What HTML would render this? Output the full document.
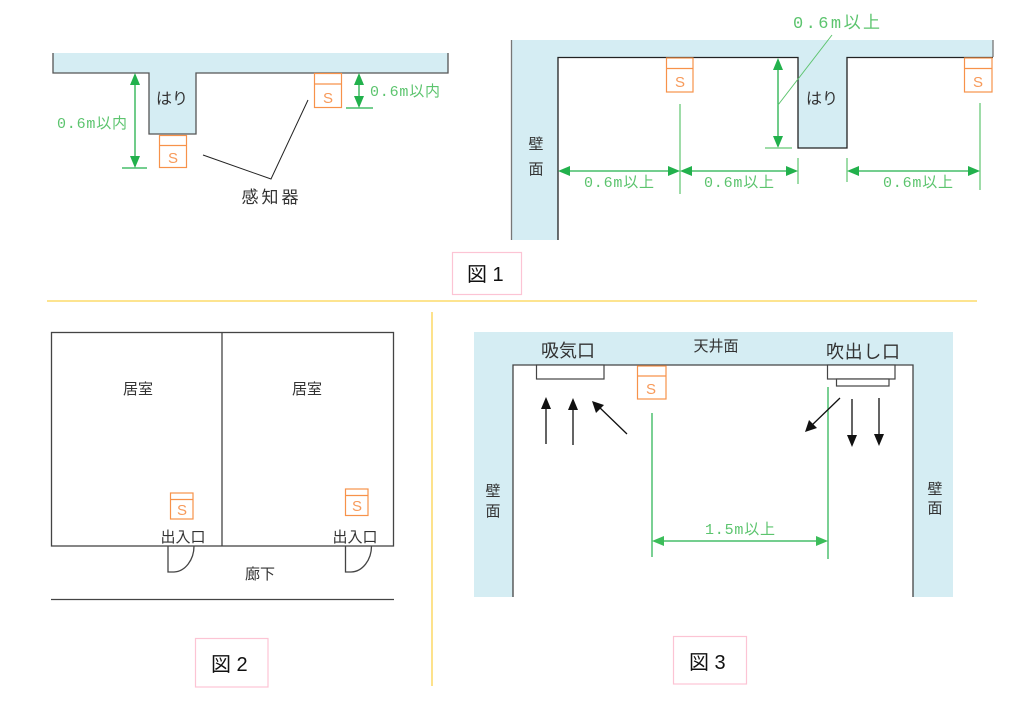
<!DOCTYPE html>
<html><head><meta charset="utf-8"><style>
html,body{margin:0;padding:0;background:#fff;}
svg{display:block;}
text{font-family:"Liberation Sans","Noto Sans CJK JP",sans-serif;}
.g{fill:#5cc46e;font-size:15px;font-family:"Liberation Mono","Noto Sans CJK JP",monospace;}
.k{fill:#333;}
.s{fill:#f79a5a;font-size:15px;}
</style></head><body>
<svg width="1024" height="705" viewBox="0 0 1024 705" xmlns="http://www.w3.org/2000/svg">
<!-- ===== Figure 1 left ===== -->
<path d="M53,53 H448 V73 H196 V134 H149 V73 H53 Z" fill="#d5edf3"/>
<path d="M53,53 V73 H149 V134 H196 V73 H448 V53" fill="none" stroke="#555" stroke-width="1.3"/>
<text x="172" y="104" class="k" font-size="16" text-anchor="middle">はり</text>
<g fill="none" stroke="#f7924a" stroke-width="1.2">
<rect x="159.5" y="135.5" width="27" height="32"/><line x1="159.5" y1="145.5" x2="186.5" y2="145.5"/>
<rect x="314.5" y="73.5" width="27" height="34"/><line x1="314.5" y1="84" x2="341.5" y2="84"/>
</g>
<text x="173" y="163" class="s" text-anchor="middle">S</text>
<text x="328" y="103" class="s" text-anchor="middle">S</text>
<g stroke="#22b14c" stroke-width="1.3">
<line x1="135" y1="76" x2="135" y2="166"/>
<line x1="359" y1="76" x2="359" y2="106"/>
</g>
<g fill="#22b14c">
<polygon points="135,73 130,85 140,85"/><polygon points="135,168 130,156 140,156"/>
<polygon points="359,73 354,85 364,85"/><polygon points="359,108 354,96 364,96"/>
</g>
<line x1="122" y1="168" x2="147" y2="168" stroke="#22b14c" stroke-width="1.2"/>
<line x1="346" y1="108" x2="373" y2="108" stroke="#22b14c" stroke-width="1.2"/>
<text x="57" y="128" class="g" textLength="70" lengthAdjust="spacing">0.6m以内</text>
<text x="370" y="96" class="g" textLength="70" lengthAdjust="spacing">0.6m以内</text>
<polyline points="203,155 271,179 308,100" fill="none" stroke="#222" stroke-width="1"/>
<text x="270" y="203" class="k" font-size="17" text-anchor="middle" textLength="57" lengthAdjust="spacing">感知器</text>

<!-- ===== Figure 1 right ===== -->
<path d="M511,40 H993 V57 H847 V148 H798 V57 H558 V240 H511 Z" fill="#d5edf3"/>
<line x1="511.5" y1="40" x2="511.5" y2="240" stroke="#777" stroke-width="1.3"/>
<line x1="993" y1="40" x2="993" y2="57" stroke="#777" stroke-width="1.3"/>
<path d="M558,240 V57.5 H798 V148 H847 V57.5 H993" fill="none" stroke="#222" stroke-width="1.3"/>
<text x="822" y="104" class="k" font-size="16" text-anchor="middle">はり</text>
<text x="536" y="149" class="k" font-size="15" text-anchor="middle">壁</text>
<text x="536" y="174" class="k" font-size="15" text-anchor="middle">面</text>
<g fill="none" stroke="#f7924a" stroke-width="1.2">
<rect x="666.5" y="58" width="26.5" height="34"/><line x1="666.5" y1="68.5" x2="693" y2="68.5"/>
<rect x="964.5" y="58" width="27.5" height="34"/><line x1="964.5" y1="68.5" x2="992" y2="68.5"/>
</g>
<text x="680" y="87" class="s" text-anchor="middle">S</text>
<text x="978" y="87" class="s" text-anchor="middle">S</text>
<g stroke="#5cc46e" stroke-width="1.2">
<line x1="680" y1="104" x2="680" y2="194"/>
<line x1="980" y1="103" x2="980" y2="190"/>
<line x1="798" y1="158" x2="798" y2="184"/>
<line x1="847" y1="158" x2="847" y2="182"/>
</g>
<g stroke="#22b14c" stroke-width="1.3">
<line x1="561" y1="171" x2="677" y2="171"/>
<line x1="683" y1="171" x2="795" y2="171"/>
<line x1="850" y1="171" x2="977" y2="171"/>
<line x1="778" y1="61" x2="778" y2="145"/>
</g>
<g fill="#22b14c">
<polygon points="558,171 570,166 570,176"/><polygon points="680,171 668,166 668,176"/>
<polygon points="680,171 692,166 692,176"/><polygon points="798,171 786,166 786,176"/>
<polygon points="847,171 859,166 859,176"/><polygon points="980,171 968,166 968,176"/>
<polygon points="778,58 773,70 783,70"/><polygon points="778,148 773,136 783,136"/>
</g>
<line x1="765" y1="148" x2="792" y2="148" stroke="#7fd08c" stroke-width="1.4"/>
<line x1="778" y1="105" x2="832" y2="35" stroke="#5cc46e" stroke-width="1"/>
<text x="619" y="187" class="g" text-anchor="middle" textLength="70" lengthAdjust="spacing">0.6m以上</text>
<text x="739" y="187" class="g" text-anchor="middle" textLength="70" lengthAdjust="spacing">0.6m以上</text>
<text x="918" y="187" class="g" text-anchor="middle" textLength="70" lengthAdjust="spacing">0.6m以上</text>
<text x="793" y="28" class="g" textLength="87" lengthAdjust="spacing" style="font-size:17px">0.6m以上</text>

<!-- caption 1 -->
<rect x="452.5" y="252.5" width="69" height="42" fill="#fff" stroke="#fcc4d4" stroke-width="1.2"/>
<text x="467" y="281" font-size="20" fill="#111">図 1</text>
<line x1="47" y1="301" x2="977" y2="301" stroke="#fcd34d" stroke-width="1.3"/>
<line x1="432" y1="312" x2="432" y2="686" stroke="#fcd34d" stroke-width="1.3"/>

<!-- ===== Figure 2 ===== -->
<g fill="none" stroke="#444" stroke-width="1.3">
<rect x="51.5" y="332.5" width="342" height="213.5"/>
<line x1="222" y1="332.5" x2="222" y2="546"/>
<line x1="51" y1="599.5" x2="394" y2="599.5"/>
<path d="M168,546 V572 H174 A21 26 0 0 0 194 546"/>
<path d="M345.5,546 V572 H351 A21 26 0 0 0 371.5 546"/>
</g>
<g fill="none" stroke="#f7924a" stroke-width="1.2">
<rect x="170.5" y="493" width="22.5" height="26"/><line x1="170.5" y1="499.5" x2="193" y2="499.5"/>
<rect x="345.5" y="489" width="22.5" height="26.5"/><line x1="345.5" y1="495.5" x2="368" y2="495.5"/>
</g>
<text x="182" y="515" class="s" font-size="14" text-anchor="middle">S</text>
<text x="357" y="511" class="s" font-size="14" text-anchor="middle">S</text>
<text x="138" y="394" class="k" font-size="15" text-anchor="middle">居室</text>
<text x="307" y="394" class="k" font-size="15" text-anchor="middle">居室</text>
<text x="183" y="542" class="k" font-size="15" text-anchor="middle">出入口</text>
<text x="355" y="542" class="k" font-size="15" text-anchor="middle">出入口</text>
<text x="260" y="579" class="k" font-size="15" text-anchor="middle">廊下</text>
<rect x="195.5" y="638.5" width="72.5" height="48.5" fill="#fff" stroke="#fcc4d4" stroke-width="1.2"/>
<text x="211" y="671" font-size="20" fill="#111">図 2</text>

<!-- ===== Figure 3 ===== -->
<path d="M474,332 H953 V597 H913 V365 H513 V597 H474 Z" fill="#d5edf3"/>
<path d="M513,597 V365 H913 V597" fill="none" stroke="#444" stroke-width="1.3"/>
<text x="568" y="357" class="k" font-size="18" text-anchor="middle">吸気口</text>
<text x="716" y="351" class="k" font-size="15" text-anchor="middle">天井面</text>
<text x="863" y="358" class="k" font-size="18" text-anchor="middle" textLength="74" lengthAdjust="spacing">吹出し口</text>
<text x="493" y="496" class="k" font-size="15" text-anchor="middle">壁</text>
<text x="493" y="516" class="k" font-size="15" text-anchor="middle">面</text>
<text x="935" y="494" class="k" font-size="15" text-anchor="middle">壁</text>
<text x="935" y="513" class="k" font-size="15" text-anchor="middle">面</text>
<g fill="#fff" stroke="#444" stroke-width="1.2">
<rect x="536.5" y="365" width="67.5" height="14"/>
<rect x="827.5" y="365" width="67.5" height="14"/>
<rect x="836.5" y="379" width="52.5" height="7"/>
</g>
<g fill="none" stroke="#f7924a" stroke-width="1.2">
<rect x="637.5" y="366" width="28.5" height="33"/><line x1="637.5" y1="376" x2="666" y2="376"/>
</g>
<text x="651" y="394" class="s" text-anchor="middle">S</text>
<g stroke="#22b14c" stroke-width="1.2">
<line x1="652" y1="413" x2="652" y2="557"/>
<line x1="828" y1="387" x2="828" y2="559"/>
<line x1="655" y1="541" x2="825" y2="541"/>
</g>
<g fill="#3cbd5a">
<polygon points="652,541 664,536 664,546"/><polygon points="828,541 816,536 816,546"/>
</g>
<text x="740" y="534" class="g" text-anchor="middle" textLength="70" lengthAdjust="spacing">1.5m以上</text>
<g stroke="#111" stroke-width="1.3">
<line x1="546" y1="444" x2="546" y2="405"/>
<line x1="573" y1="445" x2="573" y2="406"/>
<line x1="627" y1="434" x2="597" y2="405"/>
<line x1="852" y1="399" x2="852" y2="439"/>
<line x1="879" y1="398" x2="879" y2="438"/>
<line x1="840" y1="398" x2="810" y2="427"/>
</g>
<g fill="#111">
<polygon points="546,397 541,409 551,409"/>
<polygon points="573,398 568,410 578,410"/>
<polygon points="592,401 596,413 604,405"/>
<polygon points="852,447 847,435 857,435"/>
<polygon points="879,446 874,434 884,434"/>
<polygon points="805,432 809,420 817,428"/>
</g>
<rect x="673.5" y="636.5" width="73" height="47.5" fill="#fff" stroke="#fcc4d4" stroke-width="1.2"/>
<text x="689" y="669" font-size="20" fill="#111">図 3</text>
</svg>
</body></html>
